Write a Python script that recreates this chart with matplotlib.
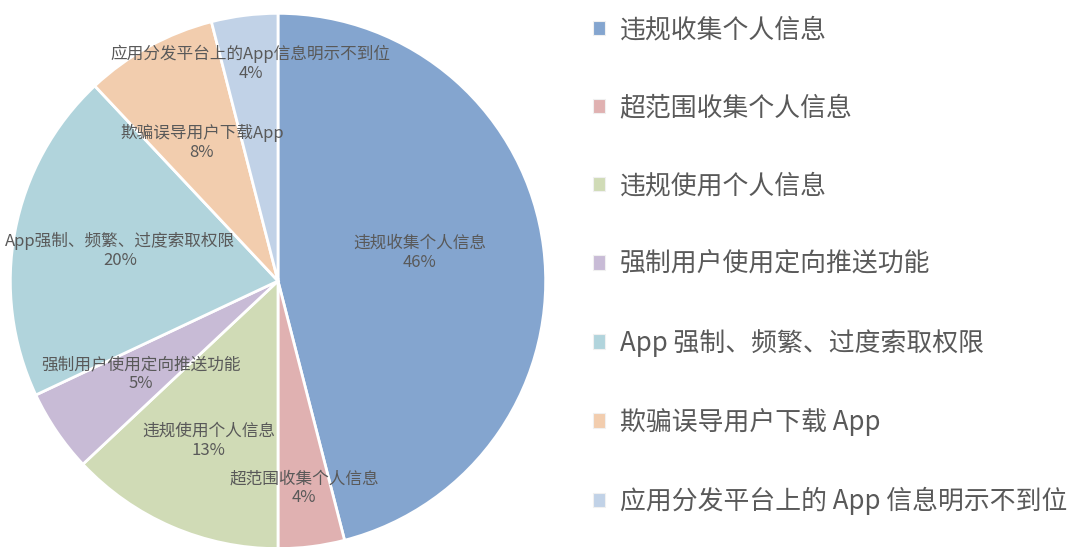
import numpy as np
import matplotlib
matplotlib.use("Agg")
import matplotlib.pyplot as plt

plt.rcParams["font.family"] = ["Noto Sans CJK SC", "DejaVu Sans"]

# data
categories = ["违规收集个人信息", "超范围收集个人信息", "违规使用个人信息", "强制用户使用定向推送功能",
              "App强制、频繁、过度索取权限", "欺骗误导用户下载App", "应用分发平台上的App信息明示不到位"]
legend_labels = ["违规收集个人信息", "超范围收集个人信息", "违规使用个人信息", "强制用户使用定向推送功能",
                 "App 强制、频繁、过度索取权限", "欺骗误导用户下载 App", "应用分发平台上的 App 信息明示不到位"]
shares = [46, 4, 13, 5, 20, 8, 4]
colors = ["#84a5cf", "#e0b1b1", "#d0dbb6", "#c8bbd6", "#b1d4dc", "#f2cdae", "#c1d2e7"]

# inside label placement: fraction of radius, angle nudge in degrees
label_r = [0.54, 0.78, 0.65, 0.62, 0.60, 0.59, 0.82]
label_nudge = [4, 0, 0, 0, 0, 0, 0]

fig = plt.figure(figsize=(10.69, 5.47), dpi=100)
ax = fig.add_axes([9 / 1069, -3 / 547, 538 / 1069, 538 / 547])
wedges, _ = ax.pie(shares, colors=colors, startangle=90, counterclock=False, radius=1,
                   wedgeprops=dict(edgecolor="white", linewidth=2))
ax.set_xlim(-1.005, 1.005)
ax.set_ylim(-1.005, 1.005)
ax.set_aspect("equal")
ax.axis("off")

for w, name, val, r, dn in zip(wedges, categories, shares, label_r, label_nudge):
    mid = np.deg2rad((w.theta1 + w.theta2) / 2 + dn)
    ax.text(r * np.cos(mid), r * np.sin(mid), f"{name}\n{val}%", ha="center", va="center",
            fontsize=12, color="#595959", linespacing=1.15)

leg = fig.legend(wedges, legend_labels, loc="upper left", bbox_to_anchor=(570 / 1069, 1.013),
                 frameon=False, fontsize=18.6, labelcolor="#595959",
                 handlelength=0.47, handleheight=0.47, handletextpad=0.55, labelspacing=1.98)
for h in leg.legend_handles:
    h.set_edgecolor("#f0f0f0")
    h.set_linewidth(0.8)

fig.savefig("out.png", dpi=100)
